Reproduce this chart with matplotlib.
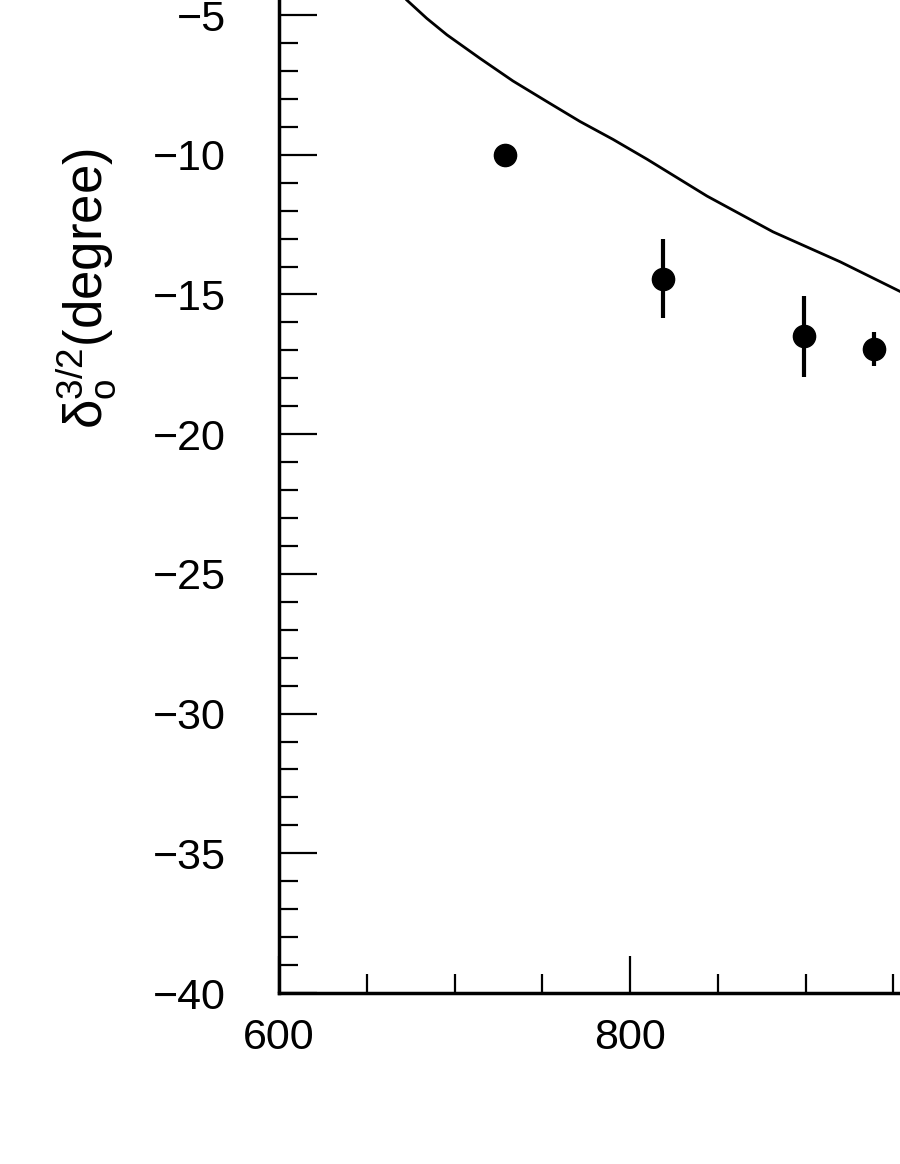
"""Phase-shift plot: delta_0^{3/2} vs energy, data points with a model curve."""

import matplotlib

matplotlib.use("Agg")
import matplotlib.pyplot as plt
from matplotlib.ticker import MultipleLocator

plt.rcParams["font.family"] = ["Liberation Sans", "DejaVu Sans"]
plt.rcParams["mathtext.fontset"] = "custom"
plt.rcParams["mathtext.rm"] = "Liberation Sans"
plt.rcParams["mathtext.it"] = "Liberation Sans"
plt.rcParams["mathtext.default"] = "regular"

# ---------------------------------------------------------------------------
# Data
# ---------------------------------------------------------------------------

energy_pts = [729, 819, 899, 939]
delta_pts = [-10.0, -14.43, -16.49, -16.96]
delta_err = [0.0, 1.43, 1.45, 0.6]

curve_energy = [672.9, 684.2, 695.7, 714.5, 733.3, 752.7, 771.5, 790.3,
                809.7, 843.9, 881.5, 919.7, 953.8]
curve_delta = [-4.47, -5.12, -5.71, -6.55, -7.36, -8.10, -8.81, -9.45,
               -10.16, -11.48, -12.76, -13.83, -14.89]

X_MIN, X_MAX = 600, 960
Y_MIN, Y_MAX = -40, -4.0

# ---------------------------------------------------------------------------
# Figure
# ---------------------------------------------------------------------------

fig = plt.figure(figsize=(9, 11.64), dpi=100)
# axes deliberately runs past the top/right edge, like the cropped scan
ax = fig.add_axes([0.31, 0.1469, 0.702, 0.8642])

ax.plot(curve_energy, curve_delta, color="black", linewidth=2.0)
ax.errorbar(
    energy_pts,
    delta_pts,
    yerr=delta_err,
    fmt="o",
    color="black",
    markersize=16,
    elinewidth=3.0,
    capsize=0,
)

ax.set_xlim(X_MIN, X_MAX)
ax.set_ylim(Y_MIN, Y_MAX)

ax.xaxis.set_major_locator(MultipleLocator(200))
ax.xaxis.set_minor_locator(MultipleLocator(50))
ax.yaxis.set_major_locator(MultipleLocator(5))
ax.yaxis.set_minor_locator(MultipleLocator(1))

ax.tick_params(axis="both", which="both", direction="in", width=1.6,
               top=False, right=False)
ax.tick_params(axis="both", which="major", length=27, labelsize=31)
ax.tick_params(axis="both", which="minor", length=13.5)
ax.tick_params(axis="x", which="major", pad=18)
ax.tick_params(axis="y", which="major", pad=38)

for side in ("top", "right"):
    ax.spines[side].set_visible(False)
for side in ("left", "bottom"):
    ax.spines[side].set_linewidth(2.5)

fig.text(0.097, 0.752, r"$\delta_o^{3/2}$(degree)", rotation=90,
         ha="center", va="center", fontsize=38)

fig.savefig("out.png", dpi=100)
plt.close(fig)
